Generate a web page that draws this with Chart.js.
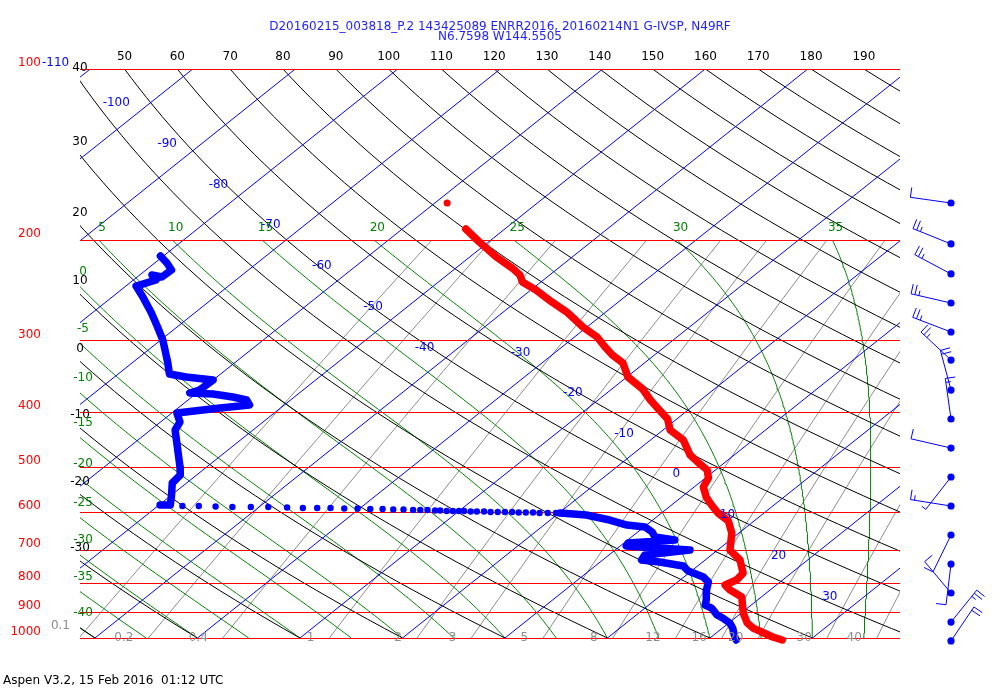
<!DOCTYPE html>
<html>
<head>
<meta charset="utf-8">
<title>Skew-T</title>
<script src="https://cdn.jsdelivr.net/npm/chart.js@4.4.0/dist/chart.umd.min.js"></script>
<style>
  html, body { margin: 0; padding: 0; background: #fff; }
  #wrap { width: 1000px; height: 700px; }
</style>
</head>
<body>
<div id="wrap"><canvas id="skewt" width="1000" height="700"></canvas></div>
<script>
// sounding: pressure (hPa) and temperature (degC)
const tempTopP = [172.0];
const tempTopT = [-58.8];
const tempP = [191.1, 201.4, 214.0, 223.8, 230.2, 236.8, 244.6, 256.7, 267.4, 284.1, 295.8, 308.0, 318.2, 328.6,
  347.8, 365.1, 381.7, 397.5, 412.2, 431.0, 448.8, 476.9, 490.6, 506.7, 523.4, 542.8, 565.2, 583.8, 603.0,
  622.9, 653.9, 700.5, 729.4, 768.9, 790.9, 807.1, 823.6, 847.3, 903.9, 941.1, 960.5, 996, 1008];
const tempT = [-53.8, -50.9, -47.4, -44.5, -42.9, -41.8, -39.5, -36.5, -33.8, -30.4, -27.8, -25.8, -24.1, -22.1,
  -19.9, -17.0, -14.9, -12.8, -10.9, -9.3, -6.8, -4.3, -2.7, -0.8, 0.3, 0.9, 2.4, 3.9, 5.5,
  7.5, 9.3, 11.2, 13.4, 15.3, 15.5, 15.0, 16.1, 18.1, 20.2, 21.8, 23.0, 26.0, 27.3];

const dewUpperP = [213.1, 219.3, 225.6, 232.0, 230.2, 234.9, 240.7, 251.6, 268.5, 284.1, 299.4, 328.6, 343.6,
  347.8, 352.0, 366.6, 371.0, 372.6, 377.1, 381.7, 389.5, 394.3, 402.4, 417.3, 431.0, 461.7, 500.6, 517.1,
  534.1, 560.7, 583.8, 583.8];
const dewUpperT = [-80.3, -78.8, -77.5, -77.6, -78.8, -77.8, -79.0, -77.0, -74.2, -71.9, -69.8, -66.5, -65.0,
  -63.0, -60.0, -60.1, -60.7, -58.3, -56.0, -54.3, -53.4, -55.9, -59.5, -58.1, -57.6, -55.3, -52.6, -51.6,
  -51.4, -50.0, -48.9, -49.9];

const dewDotP = [586.2, 586.2, 587.4, 588.6, 588.6, 588.6, 589.8, 591.0, 591.0, 591.0, 592.2, 592.2, 593.4,
  593.4, 594.6, 594.6, 595.8, 595.8, 595.8, 597.0, 597.0, 598.2, 598.2, 598.2, 598.2, 599.4, 599.4, 599.4,
  600.6, 600.6, 600.6, 600.6, 601.8, 601.8, 601.8, 603.0, 603.0, 603.0];
const dewDotT = [-47.6, -46.0, -44.3, -42.6, -40.8, -39.1, -37.2, -35.6, -34.2, -32.9, -31.5, -30.2, -28.9,
  -27.7, -26.6, -25.6, -24.6, -23.9, -23.2, -22.4, -21.9, -21.2, -20.6, -20.0, -19.5, -18.8, -18.2, -17.5,
  -16.8, -16.1, -15.4, -14.7, -14.0, -13.3, -12.6, -11.9, -11.1, -10.3];

const dewLowerP = [603.0, 607.9, 620.4, 633.1, 638.2, 651.2, 664.6, 672.7, 681.0, 689.3, 700.5, 714.8, 729.4,
  735.3, 747.3, 762.6, 781.3, 797.3, 823.6, 857.6, 875.2, 885.9, 911.3, 922.4, 941.1, 960.5, 996, 1008];
const dewLowerT = [-9.9, -7.1, -4.2, -1.9, 0.1, 1.4, 2.3, 4.6, 0.4, 0.6, 7.3, 3.5, 3.8,
  5.8, 8.6, 9.7, 11.9, 13.0, 13.8, 15.0, 15.5, 16.5, 17.9, 18.8, 20.1, 21.0, 22.3, 22.8];

// winds: pressure (hPa), direction (deg), speed (kt)
const windP = [172.0, 203.0, 229.2, 257.8, 289.9, 324.7, 366.6, 412.2, 463.6, 521.3, 586.2, 659.2, 741.3, 833.6, 937.4, 1012];
const windDir = [278, 292, 298, 283, 291, 313, 345, 352, 283, 218, 279, 206, 187, 320, 39, 34];
const windSpd = [10, 25, 25, 25, 25, 25, 20, 15, 10, 5, 15, 10, 10, 10, 25, 20];

// diagram lines and labels
const isobars = [100, 200, 300, 400, 500, 600, 700, 800, 900, 1000];
const isotherms = [-110, -100, -90, -80, -70, -60, -50, -40, -30, -20, -10, 0, 10, 20, 30];
const isothermLabelT = [-100, -90, -80, -70, -60, -50, -40, -30, -20, -10, 0, 10, 20, 30];
const isothermLabelP = [114.7, 135.5, 159.9, 188, 222, 262, 309, 315.6, 371, 438, 515, 608, 718, 847];
const dryAdiabats = [-40, -30, -20, -10, 0, 10, 20, 30, 40, 50, 60, 70, 80, 90, 100, 110, 120, 130, 140, 150, 160, 170, 180, 190, 200];
const dryTopLabels = [50, 60, 70, 80, 90, 100, 110, 120, 130, 140, 150, 160, 170, 180, 190];
const dryLeftLabels = [-30, -20, -10, 0, 10, 20, 30, 40];
const moistAdiabats = [-40, -35, -30, -25, -20, -15, -10, -5, 0, 5, 10, 15, 20, 25, 30, 35];
const mixRatios = [0.1, 0.2, 0.4, 1, 2, 3, 5, 8, 12, 16, 20, 30, 40];

const titleLines = ['D20160215_003818_P.2 143425089 ENRR2016, 20160214N1 G-IVSP, N49RF', 'N6.7598 W144.5505'];
const footer = 'Aspen V3.2, 15 Feb 2016  01:12 UTC';

const X_MIN = -41.46, X_MAX = 38.54;   // skewed temperature at the 1000 hPa edges
const SKEW = 30.2;                     // degC per unit of ln(p)
const KAPPA = 0.288;
const FONT = '12px "DejaVu Sans"';

function skewX(T, p) { return T + SKEW * Math.log(1000 / p); }
function pt(T, p) { return { x: skewX(T, p), y: p }; }

function logSteps(p0, p1, n) {
  const out = [];
  for (let i = 0; i <= n; i++) out.push(p0 * Math.pow(p1 / p0, i / n));
  return out;
}

function dryLine(theta) {
  return logSteps(100, 1000, 60).map(p => pt((theta + 273.15) * Math.pow(p / 1000, KAPPA) - 273.15, p));
}

function satMix(Tk, p) {
  const tc = Tk - 273.15;
  const es = 6.112 * Math.exp(17.67 * tc / (tc + 243.5));
  return 0.622 * es / (p - es);
}
function moistRate(Tk, p) {
  const rs = satMix(Tk, p);
  const Lv = 2.501e6;
  return (287.04 * Tk + Lv * rs) / (1005.7 + Lv * Lv * rs * 0.622 / (287.04 * Tk * Tk));
}
function moistLine(thw) {
  const pts = [];
  let Tk = thw + 273.15, lnp = Math.log(1000);
  const n = 160, h = (Math.log(200) - Math.log(1000)) / n;
  pts.push(pt(Tk - 273.15, 1000));
  for (let i = 0; i < n; i++) {
    const k1 = moistRate(Tk, Math.exp(lnp));
    const k2 = moistRate(Tk + h * k1, Math.exp(lnp + h));
    Tk += h * (k1 + k2) / 2;
    lnp += h;
    pts.push(pt(Tk - 273.15, Math.exp(lnp)));
  }
  return pts;
}

function mixTd(w, p) {
  const e = w * p / (622 + w);
  const l = Math.log(e / 6.112);
  return 243.5 * l / (17.67 - l);
}
function mixLine(w) {
  return logSteps(200, 1000, 20).map(p => pt(mixTd(w, p), p));
}

function zip(P, T) { return P.map((p, i) => pt(T[i], p)); }

function lineSet(data, color, order, width) {
  return { data, showLine: true, borderColor: color, borderWidth: width || 1, pointRadius: 0, fill: false, order, tension: 0 };
}

const datasets = [];
datasets.push({ data: zip(tempP, tempT), showLine: true, borderColor: '#ff0000', borderWidth: 7.5,
  borderCapStyle: 'round', borderJoinStyle: 'round', pointRadius: 0, order: 0, clip: false });
datasets.push({ data: zip(tempTopP, tempTopT), showLine: false, pointRadius: 3.5, pointBackgroundColor: '#ff0000',
  pointBorderWidth: 0, order: 0, clip: false });
datasets.push({ data: zip(dewUpperP, dewUpperT), showLine: true, borderColor: '#0000ff', borderWidth: 7.5,
  borderCapStyle: 'round', borderJoinStyle: 'round', pointRadius: 0, order: 0, clip: false });
datasets.push({ data: zip(dewDotP, dewDotT), showLine: false, pointRadius: 3.2, pointBackgroundColor: '#0000ff',
  pointBorderWidth: 0, order: 0, clip: false });
datasets.push({ data: zip(dewLowerP, dewLowerT), showLine: true, borderColor: '#0000ff', borderWidth: 7.5,
  borderCapStyle: 'round', borderJoinStyle: 'round', pointRadius: 0, order: 0, clip: false });
const FIRST_DRAWN_SOUNDING = datasets.length - 1;

isotherms.forEach(t => datasets.push(lineSet([pt(t, 100), pt(t, 1000)], '#0000ff', 2)));
dryAdiabats.forEach(th => datasets.push(lineSet(dryLine(th), '#000000', 3)));
const moistData = moistAdiabats.map(moistLine);
moistData.forEach(d => datasets.push(lineSet(d, '#008000', 4)));
mixRatios.forEach(w => datasets.push(lineSet(mixLine(w), '#8c8c8c', 5)));

// pressure where a line leaves through the left edge
function leftCross(points) {
  for (let i = 1; i < points.length; i++) {
    const a = points[i - 1], b = points[i];
    if ((a.x - X_MIN) * (b.x - X_MIN) <= 0 && a.x !== b.x) {
      const f = (X_MIN - a.x) / (b.x - a.x);
      return Math.exp(Math.log(a.y) + f * (Math.log(b.y) - Math.log(a.y)));
    }
  }
  return null;
}

function drawBarb(ctx, x0, y0, dir, spd) {
  const r = dir * Math.PI / 180;
  const ux = Math.sin(r), uy = -Math.cos(r);
  const bx = -uy, by = ux;
  const L = 41;
  ctx.beginPath();
  ctx.moveTo(x0, y0);
  ctx.lineTo(x0 + ux * L, y0 + uy * L);
  let pos = L, left = spd;
  while (left >= 10) {
    const sx = x0 + ux * pos, sy = y0 + uy * pos;
    ctx.moveTo(sx, sy);
    ctx.lineTo(sx + bx * 10, sy + by * 10);
    pos -= 4; left -= 10;
  }
  if (left >= 5) {
    const sx = x0 + ux * pos, sy = y0 + uy * pos;
    ctx.moveTo(sx, sy);
    ctx.lineTo(sx + bx * 5, sy + by * 5);
  }
  ctx.stroke();
  ctx.beginPath();
  ctx.arc(x0, y0, 3.6, 0, Math.PI * 2);
  ctx.fill();
}

// isobars go on top of the grid, under the sounding traces
const isobarPlugin = {
  id: 'isobars',
  beforeDatasetDraw(chart, args) {
    if (args.index !== FIRST_DRAWN_SOUNDING) return;
    const ctx = chart.ctx, area = chart.chartArea, ys = chart.scales.y;
    ctx.save();
    ctx.strokeStyle = '#ff0000';
    ctx.lineWidth = 1;
    ctx.beginPath();
    isobars.forEach(p => {
      const y = Math.round(ys.getPixelForValue(p)) + 0.5;
      ctx.moveTo(area.left, y);
      ctx.lineTo(area.right, y);
    });
    ctx.stroke();
    ctx.restore();
  }
};

const labelPlugin = {
  id: 'skewtLabels',
  afterDraw(chart) {
    const ctx = chart.ctx;
    const xs = chart.scales.x, ys = chart.scales.y;
    const area = chart.chartArea;
    const X = v => xs.getPixelForValue(v);
    const Y = v => ys.getPixelForValue(v);
    ctx.save();
    ctx.font = FONT;
    ctx.textBaseline = 'middle';

    // title and footer
    ctx.fillStyle = '#1f1fff';
    ctx.textAlign = 'center';
    ctx.fillText(titleLines[0], 500, 27);
    ctx.fillText(titleLines[1], 500, 37);
    ctx.fillStyle = '#000000';
    ctx.textAlign = 'left';
    ctx.fillText(footer, 3, 681);

    // pressure labels
    ctx.fillStyle = '#ff0000';
    ctx.textAlign = 'right';
    isobars.forEach(p => ctx.fillText(String(p), area.left - 39, Y(p) - 6));
    ctx.fillStyle = '#0000ff';
    ctx.textAlign = 'left';
    ctx.fillText(String(isotherms[0]), area.left - 38, Y(100) - 6);

    // isotherm labels
    ctx.textAlign = 'center';
    isothermLabelT.forEach((t, i) => {
      const p = isothermLabelP[i];
      ctx.fillText(String(t), X(skewX(t, p)) - 34, Y(p));
    });

    // dry adiabat labels
    ctx.fillStyle = '#000000';
    dryTopLabels.forEach(th => {
      const T = (th + 273.15) * Math.pow(0.1, KAPPA) - 273.15;
      ctx.fillText(String(th), X(skewX(T, 100)), area.top - 12);
    });
    dryLeftLabels.forEach(th => {
      const p = leftCross(dryLine(th));
      if (p) ctx.fillText(String(th), area.left, Y(p) - 13);
    });

    // moist adiabat labels
    ctx.fillStyle = '#008000';
    moistAdiabats.forEach((thw, i) => {
      const d = moistData[i];
      if (thw > 0) {
        const last = d[d.length - 1];
        ctx.fillText(String(thw), X(last.x) + 3, Y(200) - 12);
      } else {
        const p = leftCross(d);
        if (p) ctx.fillText(String(thw), area.left + 3, Y(p) - 15);
      }
    });

    // mixing ratio labels
    ctx.fillStyle = '#8c8c8c';
    ctx.textAlign = 'right';
    mixRatios.forEach(w => {
      const xp = X(skewX(mixTd(w, 1000), 1000)) - 15;
      if (xp < area.left + 10) ctx.fillText(String(w), area.left - 10, Y(1000) - 12);
      else ctx.fillText(String(w), xp, Y(1000));
    });

    // wind barbs
    ctx.strokeStyle = '#0000ff';
    ctx.fillStyle = '#0000ff';
    ctx.lineWidth = 1;
    windP.forEach((p, i) => drawBarb(ctx, area.right + 51, Y(p), windDir[i], windSpd[i]));
    ctx.restore();
  }
};

new Chart(document.getElementById('skewt'), {
  type: 'scatter',
  data: { datasets },
  options: {
    responsive: false,
    animation: false,
    devicePixelRatio: 1,
    events: [],
    layout: { padding: { left: 80, right: 100, top: 69, bottom: 62 } },
    plugins: { legend: { display: false }, tooltip: { enabled: false } },
    scales: {
      x: { type: 'linear', display: false, min: X_MIN, max: X_MAX },
      y: { type: 'logarithmic', display: false, reverse: true, min: 100, max: 1000 }
    }
  },
  plugins: [isobarPlugin, labelPlugin]
});
</script>
</body>
</html>
